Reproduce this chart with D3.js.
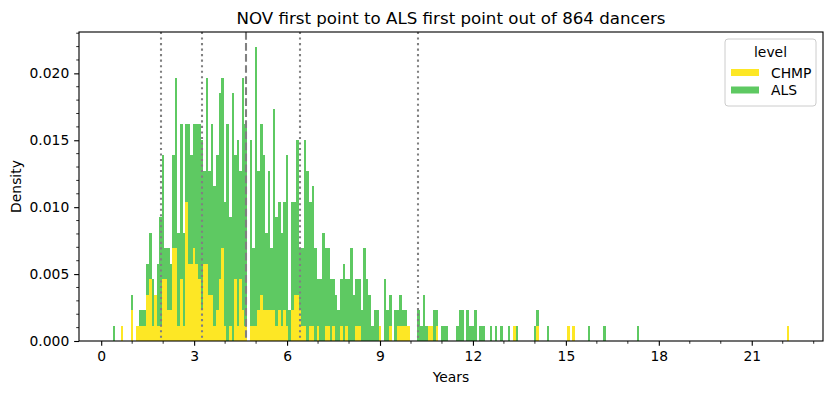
<!DOCTYPE html>
<html>
<head>
<meta charset="utf-8">
<script src="https://cdn.jsdelivr.net/npm/d3@7/dist/d3.min.js"></script>
<style>
  html, body { margin: 0; padding: 0; background: #ffffff; }
  svg { display: block; font-family: "DejaVu Sans", sans-serif; }
</style>
</head>
<body>
<svg id="chart" width="832" height="393"></svg>
<script>
// ---- Data (histogram bins of 1 month; x axis labelled in years) ----
const title = "NOV first point to ALS first point out of 864 dancers";
const nDancers = 864;
const levels = ["CHMP", "ALS"];
const levelColors = ["#fde725", "#5ec962"];

// month (bin centre) of every non-empty bin
const months = [5,8,12,14,15,16,17,18,19,20,21,22,23,24,25,26,27,28,29,30,
  31,32,33,34,35,36,37,38,39,40,41,42,43,44,45,46,47,48,49,50,
  51,52,53,54,55,56,58,59,60,61,62,63,64,65,66,67,68,69,70,71,
  72,73,74,75,76,77,78,79,80,81,82,83,84,85,86,87,88,89,90,91,
  92,93,94,95,96,97,98,99,100,101,102,103,104,105,106,107,108,110,111,112,
  114,115,116,117,118,119,123,124,125,126,127,128,129,130,132,133,134,138,139,140,
  142,143,144,145,147,148,151,153,155,158,160,161,168,169,173,181,183,189,195,208,266];
// dancer counts per bin, CHMP (bottom of stack)
const chmp = [0,1,2,1,1,1,1,3,4,1,3,1,1,4,4,2,2,6,6,1,
  4,1,9,5,5,6,5,4,2,5,5,3,3,1,2,4,6,1,0,1,
  0,4,1,4,2,1,1,1,1,2,3,2,2,2,2,2,1,2,1,2,
  1,0,2,3,3,2,1,1,0,1,1,0,1,0,0,1,1,0,1,0,
  0,1,0,1,0,0,0,1,1,0,0,0,0,0,0,0,1,0,0,1,
  0,1,1,1,1,1,0,0,0,0,1,1,0,1,0,0,0,0,0,0,
  0,0,0,0,0,0,0,0,0,0,1,0,0,1,0,1,1,0,0,0,1];
// dancer counts per bin, ALS (stacked on top)
const als = [1,0,1,0,1,1,1,2,3,3,0,4,7,8,2,4,3,6,11,6,
  10,6,5,9,7,8,9,10,11,6,12,8,11,9,10,12,11,8,14,7,
  16,8,12,7,15,13,12,5,18,9,11,10,5,9,4,13,7,7,6,7,
  11,2,7,6,10,4,5,12,11,8,9,6,3,4,7,5,5,4,3,3,
  2,3,5,3,4,6,3,3,3,2,6,4,3,1,2,2,0,4,2,2,
  2,1,2,1,1,0,2,1,3,1,0,0,2,1,1,1,1,1,2,2,
  2,1,1,2,1,1,1,1,1,1,0,1,1,1,1,0,0,1,1,1,0];

// quantile markers (months): 5%, 25%, 50% (dashed), 75%, 95%
const quantiles = [23.1, 39.1, 56.2, 77.1, 122.9];
const medianIndex = 2;

// axis ticks
const xMajorMonths = [0, 36, 72, 108, 144, 180, 216, 252];
const xMajorLabels = ["0", "3", "6", "9", "12", "15", "18", "21"];
const xMinorMonths = [12, 24, 48, 60, 84, 96, 120, 132, 156, 168, 192, 204, 228, 240, 264, 276];
const yMajor = [0.000, 0.005, 0.010, 0.015, 0.020];
const yMinor = [0.001,0.002,0.003,0.004,0.006,0.007,0.008,0.009,0.011,0.012,0.013,0.014,0.016,0.017,0.018,0.019,0.021,0.022,0.023];

// ---- Layout (matplotlib at 100 dpi: 1pt = 100/72 px) ----
const PT = 100 / 72;
const L = 79, R = 823, T = 32, B = 341;
const FONT = 10 * PT;
const TITLE_FONT = 12 * PT;
const MAJOR = 3.5 * PT, MINOR = 2 * PT, PAD = 3.5 * PT;

const svg = d3.select("#chart");

const x = d3.scaleLinear().domain([-8.6, 279.6]).range([L, R]);
const y = d3.scaleLinear().domain([0, 0.02309]).range([B, T]);

// stacked density data
const rows = months.map((m, i) => ({ month: m, CHMP: chmp[i] / nDancers, ALS: als[i] / nDancers }));
const stack = d3.stack().keys(levels)(rows);

const plot = svg.append("g");
stack.forEach((layer, li) => {
  plot.append("g")
    .attr("fill", levelColors[li])
    .attr("shape-rendering", "crispEdges")
    .selectAll("rect")
    .data(layer.filter(d => d[1] > d[0]))
    .join("rect")
    .attr("x", d => x(d.data.month - 0.5))
    .attr("width", d => x(d.data.month + 0.5) - x(d.data.month - 0.5))
    .attr("y", d => y(d[1]))
    .attr("height", d => y(d[0]) - y(d[1]));
});

// quantile lines
quantiles.forEach((q, i) => {
  const isMed = i === medianIndex;
  const lw = 1.5 * PT;
  const xx = Math.round(x(q));
  svg.append("line")
    .attr("x1", xx).attr("x2", xx)
    .attr("y1", T).attr("y2", B)
    .attr("stroke", "#808080")
    .attr("stroke-width", lw)
    .attr("stroke-dasharray", isMed ? `${3.7 * lw},${1.6 * lw}` : `${1 * lw},${1.65 * lw}`);
});

// axes
const xAxis = d3.axisBottom(x)
  .tickValues(xMajorMonths)
  .tickFormat((d, i) => xMajorLabels[i])
  .tickSize(MAJOR).tickPadding(PAD);
const gx = svg.append("g").attr("transform", `translate(0,${B})`).call(xAxis);
gx.select(".domain").remove();
gx.selectAll("text").attr("font-size", FONT).attr("font-family", "DejaVu Sans").attr("fill", "#000");
gx.selectAll("line").attr("stroke", "#000").attr("stroke-width", 0.8 * PT);

svg.append("g").attr("transform", `translate(0,${B})`)
  .selectAll("line").data(xMinorMonths).join("line")
  .attr("x1", d => x(d)).attr("x2", d => x(d))
  .attr("y1", 0).attr("y2", MINOR)
  .attr("stroke", "#000").attr("stroke-width", 0.6 * PT);

const yAxis = d3.axisLeft(y)
  .tickValues(yMajor)
  .tickFormat(d3.format(".3f"))
  .tickSize(MAJOR).tickPadding(PAD);
const gy = svg.append("g").attr("transform", `translate(${L},0)`).call(yAxis);
gy.select(".domain").remove();
gy.selectAll("text").attr("font-size", FONT).attr("font-family", "DejaVu Sans").attr("fill", "#000");
gy.selectAll("line").attr("stroke", "#000").attr("stroke-width", 0.8 * PT);

svg.append("g").attr("transform", `translate(${L},0)`)
  .selectAll("line").data(yMinor).join("line")
  .attr("x1", 0).attr("x2", -MINOR)
  .attr("y1", d => y(d)).attr("y2", d => y(d))
  .attr("stroke", "#000").attr("stroke-width", 0.6 * PT);

// frame (spines)
svg.append("rect")
  .attr("x", L).attr("y", T).attr("width", R - L).attr("height", B - T)
  .attr("fill", "none").attr("stroke", "#000").attr("stroke-width", 0.8 * PT);

// labels
svg.append("text")
  .attr("x", (L + R) / 2).attr("y", 24)
  .attr("text-anchor", "middle")
  .attr("font-size", TITLE_FONT)
  .text(title);

svg.append("text")
  .attr("x", (L + R) / 2).attr("y", 382)
  .attr("text-anchor", "middle")
  .attr("font-size", FONT)
  .text("Years");

svg.append("text")
  .attr("transform", `translate(21,${(T + B) / 2}) rotate(-90)`)
  .attr("text-anchor", "middle")
  .attr("font-size", FONT)
  .text("Density");

// legend
const lg = svg.append("g");
lg.append("rect")
  .attr("x", 725).attr("y", 39).attr("width", 91).attr("height", 67)
  .attr("rx", 3)
  .attr("fill", "#ffffff").attr("fill-opacity", 0.8)
  .attr("stroke", "#cccccc").attr("stroke-width", 1);
lg.append("text")
  .attr("x", 770.5).attr("y", 56.5)
  .attr("text-anchor", "middle")
  .attr("font-size", FONT)
  .text("level");
levels.forEach((lv, i) => {
  const yy = 69 + i * 17.5;
  lg.append("rect")
    .attr("x", 731).attr("y", yy).attr("width", 28).attr("height", 7)
    .attr("fill", levelColors[i]);
  lg.append("text")
    .attr("x", 771).attr("y", yy + 8.5)
    .attr("font-size", FONT)
    .text(lv);
});
</script>
</body>
</html>
